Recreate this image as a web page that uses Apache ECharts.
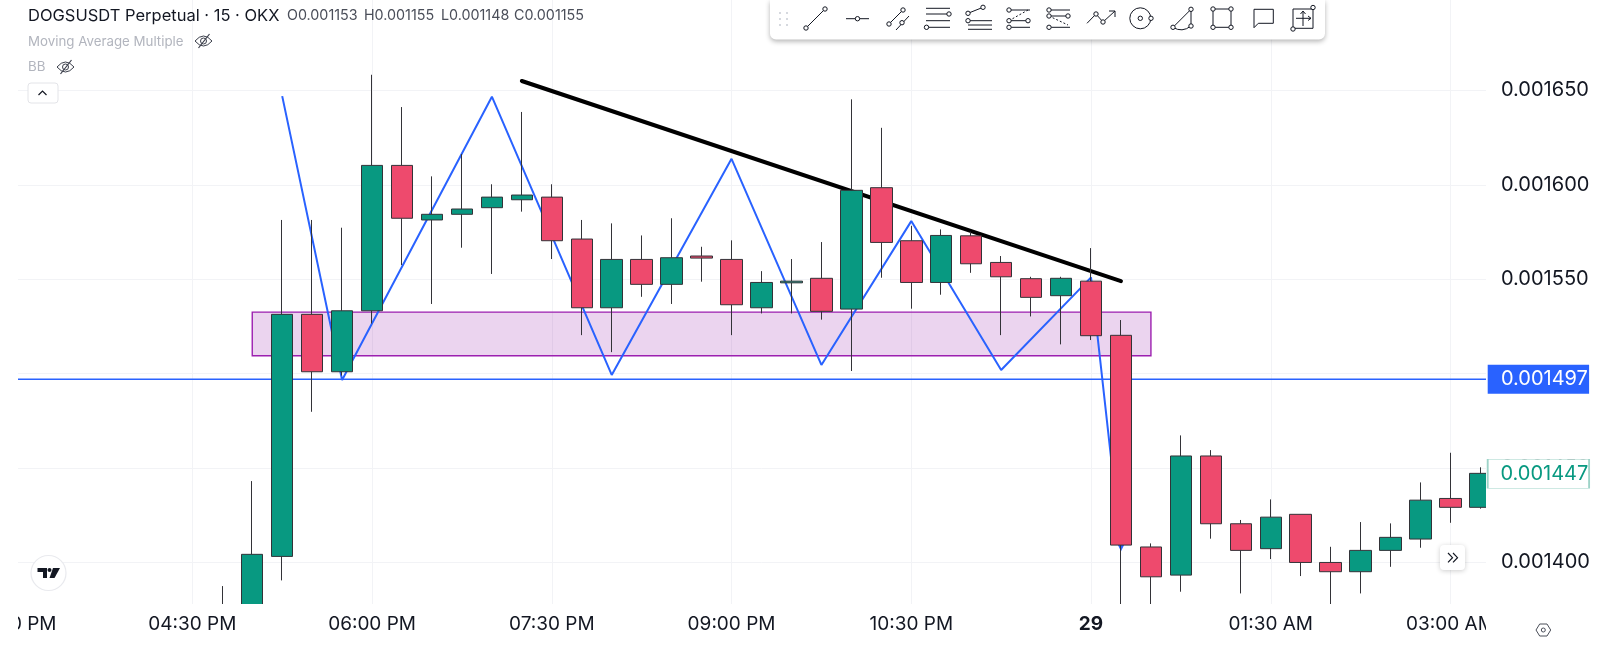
<!DOCTYPE html>
<html>
<head>
<meta charset="utf-8">
<title>DOGSUSDT Perpetual</title>
<script src="https://cdn.jsdelivr.net/npm/echarts@6/dist/echarts.min.js"></script>
<style>
  html, body { margin: 0; padding: 0; background: #fff; }
  #chart { width: 1600px; height: 650px; }
</style>
</head>
<body>
<div id="chart"></div>
<script>
// time axis, 15 min bars, 03:00 PM is cut by the window edge
const times = [
  '03:00 PM','03:15 PM','03:30 PM','03:45 PM','04:00 PM','04:15 PM',
  '04:30 PM','04:45 PM','05:00 PM','05:15 PM','05:30 PM','05:45 PM',
  '06:00 PM','06:15 PM','06:30 PM','06:45 PM','07:00 PM','07:15 PM',
  '07:30 PM','07:45 PM','08:00 PM','08:15 PM','08:30 PM','08:45 PM',
  '09:00 PM','09:15 PM','09:30 PM','09:45 PM','10:00 PM','10:15 PM',
  '10:30 PM','10:45 PM','11:00 PM','11:15 PM','11:30 PM','11:45 PM',
  '29','12:15 AM','12:30 AM','12:45 AM','01:00 AM','01:15 AM',
  '01:30 AM','01:45 AM','02:00 AM','02:15 AM','02:30 AM','02:45 AM',
  '03:00 AM','03:15 AM','03:30 AM'
];

const barTimes = [
  '04:45 PM','05:00 PM','05:15 PM','05:30 PM','05:45 PM','06:00 PM','06:15 PM','06:30 PM',
  '06:45 PM','07:00 PM','07:15 PM','07:30 PM','07:45 PM','08:00 PM','08:15 PM','08:30 PM',
  '08:45 PM','09:00 PM','09:15 PM','09:30 PM','09:45 PM','10:00 PM','10:15 PM','10:30 PM',
  '10:45 PM','11:00 PM','11:15 PM','11:30 PM','11:45 PM','29',
  '12:15 AM','12:30 AM','12:45 AM','01:00 AM','01:15 AM','01:30 AM','01:45 AM','02:00 AM',
  '02:15 AM','02:30 AM','02:45 AM','03:00 AM','03:15 AM'
];
const opens = [
  0.0013760,0.0013720,0.0014032,0.0015314,0.0015010,0.0015333,0.0016103,0.0015814,
  0.0015844,0.0015879,0.0015921,0.0015935,0.0015713,0.0015349,0.0015605,0.0015473,
  0.0015623,0.0015605,0.0015349,0.0015481,0.0015505,0.0015342,0.0015985,0.0015704,
  0.0015483,0.0015730,0.0015589,0.0015503,0.0015413,0.0015490,
  0.0015203,0.0014082,0.0013933,0.0014564,0.0014205,0.0014073,0.0014255,0.0014000,
  0.0013951,0.0014064,0.0014124,0.0014339,0.0014292
];
const closes = [
  0.0013720,0.0014043,0.0015314,0.0015010,0.0015333,0.0016103,0.0015823,0.0015844,
  0.0015872,0.0015935,0.0015946,0.0015704,0.0015349,0.0015605,0.0015473,0.0015614,
  0.0015612,0.0015365,0.0015483,0.0015490,0.0015330,0.0015971,0.0015695,0.0015483,
  0.0015732,0.0015582,0.0015513,0.0015404,0.0015505,0.0015201,
  0.0014092,0.0013924,0.0014564,0.0014205,0.0014064,0.0014240,0.0014000,0.0013951,
  0.0014064,0.0014133,0.0014330,0.0014292,0.0014472
];
const lows = [
  0.0013650,0.0013680,0.0013905,0.0014798,0.0014990,0.0015266,0.0015575,0.0015369,
  0.0015667,0.0015528,0.0015858,0.0015607,0.0015204,0.0015114,0.0015407,0.0015369,
  0.0015487,0.0015204,0.0015319,0.0015319,0.0015286,0.0015014,0.0015508,0.0015344,
  0.0015418,0.0015534,0.0015204,0.0015303,0.0015155,0.0015178,
  0.0013770,0.0013770,0.0013845,0.0014126,0.0013836,0.0014018,0.0013928,0.0013770,
  0.0013836,0.0013977,0.0014078,0.0014210,0.0014285
];
const highs = [
  0.0013875,0.0014431,0.0015814,0.0015814,0.0015773,0.0016583,0.0016412,0.0016045,
  0.0016163,0.0016003,0.0016386,0.0016003,0.0015814,0.0015796,0.0015732,0.0015823,
  0.0015672,0.0015706,0.0015543,0.0015607,0.0015697,0.0016453,0.0016302,0.0015783,
  0.0015764,0.0015752,0.0015623,0.0015513,0.0015513,0.0015665,
  0.0015284,0.0014101,0.0014673,0.0014595,0.0014225,0.0014334,0.0014255,0.0014083,
  0.0014214,0.0014207,0.0014424,0.0014581,0.0014504
];

// blue zigzag drawing
const zigzagTimes = ['05:15 PM','05:45 PM','07:00 PM','08:00 PM','09:00 PM','09:45 PM','10:30 PM','11:15 PM','29','12:15 AM'];
const zigzagPrices = [0.0016470,0.0014966,0.0016467,0.0014993,0.0016138,0.0015046,0.0015808,0.0015019,0.0015510,0.0014080];
// black trend line
const trendTimes = ['07:15 PM','12:15 AM'];
const trendPrices = [0.0016550,0.0015490];
// purple zone
const zoneTimes = ['05:00 PM','12:30 AM'];
const zonePrices = [0.0015326,0.0015095];

const levelPrice = 0.001497;
const lastPrice = 0.001447;
const yMin = 0.001378;
const yMax = 0.0016979;

const symbolText = 'DOGSUSDT Perpetual · 15 · OKX';
const ohlcText = ['O0.001153','H0.001155','L0.001148','C0.001155'];
const indicatorText = ['Moving Average Multiple','BB'];

const GREEN = '#089981';
const RED = '#ee4a6d';
const BORDER = '#333338';
const BLUE = '#2962ff';
const GRID = '#f2f3f6';
const FONT = 'Inter, "Noto Sans", sans-serif';
const PANE_RIGHT = 1486;
const PANE_BOTTOM = 604;

var dom = document.getElementById('chart');
var myChart = echarts.init(dom, null, { renderer: 'canvas' });

var candleRows = times.map(function (t) {
  var i = barTimes.indexOf(t);
  if (i < 0) return ['-', '-', '-', '-'];
  return [opens[i], closes[i], lows[i], highs[i]];
});
function pairs(ts, prices) {
  return ts.map(function (t, i) { return [t, prices[i]]; });
}
function every6(i) {
  return i % 6 === 0;
}

// ---------- toolbar and other chrome, just drawn on top ----------
const INK = '#131722';
function ln(points, dashed) {
  return { type: 'polyline', z: 22, shape: { points: points },
    style: { stroke: INK, lineWidth: 1, fill: null, lineDash: dashed ? [2, 2] : null } };
}
function dot(x, y, r) {
  return { type: 'circle', z: 23, shape: { cx: x, cy: y, r: r || 2.2 }, style: { stroke: INK, lineWidth: 1, fill: '#fff' } };
}
function curve(x1, y1, cx, cy, x2, y2, color) {
  return { type: 'bezierCurve', z: 22, shape: { x1: x1, y1: y1, cpx1: cx, cpy1: cy, x2: x2, y2: y2 },
    style: { stroke: color || INK, lineWidth: 1, fill: null } };
}
function eye(x, y) {
  return [
    curve(x - 8.5, y, x, y - 10, x + 8.5, y, '#3a3e4a'),
    curve(x - 8.5, y, x, y + 10, x + 8.5, y, '#3a3e4a'),
    { type: 'circle', z: 22, shape: { cx: x, cy: y, r: 3 }, style: { stroke: '#3a3e4a', lineWidth: 1, fill: null } },
    { type: 'line', z: 22, shape: { x1: x - 5, y1: y + 7, x2: x + 6, y2: y - 7 }, style: { stroke: '#3a3e4a', lineWidth: 1.2 } }
  ];
}
function headerText(str, x, y, size, color) {
  return { type: 'text', z: 20, x: x, y: y, style: { text: str, font: size + 'px ' + FONT, fill: color, verticalAlign: 'middle' } };
}
var grip = [];
[780, 787].forEach(function (x) {
  [13, 19, 25].forEach(function (y) {
    grip.push({ type: 'circle', z: 22, shape: { cx: x, cy: y, r: 1 }, style: { fill: '#c9ccd4' } });
  });
});
var toolbarIcons = [
  ln([[806, 28], [825, 9]]), dot(806, 28), dot(825, 9),
  ln([[846, 18.7], [869, 18.7]]), dot(857.5, 18.7),
  ln([[889, 24], [903, 10]]), ln([[896, 30], [909, 16]]), dot(889, 24), dot(903, 10), dot(902, 22.7),
  ln([[926, 8.3], [950, 8.3]]), ln([[926, 14], [949, 14]]), ln([[926, 20.7], [950, 20.7]]), ln([[926, 27.3], [950, 27.3]]), dot(949, 14), dot(926.5, 27.3),
  ln([[968, 13.3], [983, 7.3]]), ln([[968, 20.7], [992, 20.7]]), ln([[968, 25], [992, 25]]), ln([[968, 29.3], [992, 29.3]]), dot(968, 13.3), dot(983, 7.3), dot(968, 20.7),
  ln([[1009, 10], [1030, 10]]), ln([[1009, 20.7], [1028, 20.7]]), ln([[1009, 27.3], [1030, 27.3]]), ln([[1009, 20.7], [1028, 10]], true), dot(1009, 10), dot(1009, 20.7), dot(1028, 20.7), dot(1009, 27.3),
  ln([[1049, 10], [1070, 10]]), ln([[1049, 16], [1068, 16]]), ln([[1049, 27.3], [1070, 27.3]]), ln([[1049, 16], [1068, 25]], true), dot(1049, 10), dot(1049, 16), dot(1068, 16), dot(1049, 27.3),
  ln([[1087, 23.3], [1096, 14], [1103, 22], [1115, 11]]), ln([[1109, 11], [1115, 11], [1115, 17]]), dot(1096, 14), dot(1103, 22),
  { type: 'circle', z: 22, shape: { cx: 1140.3, cy: 18.3, r: 10.5 }, style: { stroke: INK, lineWidth: 1, fill: null } }, dot(1140.3, 18.3), dot(1151, 18.3),
  ln([[1173, 27.3], [1191, 9.3], [1191, 26]]), curve(1173, 27.3, 1182, 33, 1191, 26), dot(1173, 27.3), dot(1191, 9.3), dot(1191, 26),
  ln([[1213, 9], [1231, 9], [1231, 27.3], [1213, 27.3], [1213, 9]]), dot(1213, 9), dot(1231, 9), dot(1213, 27.3), dot(1231, 27.3),
  ln([[1254, 9.3], [1273.3, 9.3], [1273.3, 23.3], [1258.3, 23.3], [1254, 27.7], [1254, 9.3]]),
  ln([[1293, 9], [1313, 9], [1313, 28.3], [1293, 28.3], [1293, 9]]), ln([[1303, 12], [1303, 26]]), ln([[1296, 18.3], [1311, 18.3]]), ln([[1300.5, 14], [1303, 11], [1305.5, 14]]), ln([[1308, 16], [1311, 18.3], [1308, 20.5]]), dot(1313, 7.5), dot(1293, 29)
];

var chrome = [
  // covers: candles are not cut by the grid so the band under the pane hides them,
  // the two side covers cut the first and last time label like the real chart
  { type: 'rect', z: 6, shape: { x: 0, y: PANE_BOTTOM, width: 1600, height: 650 - PANE_BOTTOM }, style: { fill: '#fff' } },
  { type: 'rect', z: 12, shape: { x: 0, y: 0, width: 18, height: 650 }, style: { fill: '#fff' } },
  { type: 'rect', z: 12, shape: { x: PANE_RIGHT, y: 0, width: 1600 - PANE_RIGHT, height: 650 }, style: { fill: '#fff' } },

  headerText(symbolText, 28, 16, 16.5, '#131722'),
  headerText(ohlcText[0], 287, 16, 14.3, '#4a4e59'),
  headerText(ohlcText[1], 364, 16, 14.3, '#4a4e59'),
  headerText(ohlcText[2], 441, 16, 14.3, '#4a4e59'),
  headerText(ohlcText[3], 514, 16, 14.3, '#4a4e59'),
  headerText(indicatorText[0], 28, 42, 13.3, '#b2b5be'),
  headerText(indicatorText[1], 28, 67, 13.3, '#b2b5be'),

  // collapse legend button
  { type: 'rect', z: 20, shape: { x: 28, y: 83, width: 30, height: 20, r: 3 }, style: { fill: '#fff', stroke: '#e3e4e8', lineWidth: 1 } },
  { type: 'polyline', z: 21, shape: { points: [[38.5, 95], [42.5, 91], [46.5, 95]] }, style: { stroke: INK, lineWidth: 1.2, fill: null } },

  // toolbar box
  { type: 'rect', z: 20, shape: { x: 770, y: 0, width: 555, height: 39.5, r: [0, 0, 6, 6] },
    style: { fill: '#fff', shadowBlur: 5, shadowOffsetY: 2, shadowColor: 'rgba(0,0,0,.3)' } },

  // tradingview logo
  { type: 'circle', z: 20, shape: { cx: 48.5, cy: 573, r: 17.5 }, style: { fill: '#fff', stroke: '#e9eaee', lineWidth: 1.2 } },
  { type: 'polygon', z: 21, shape: { points: [[37.5, 568], [47, 568], [47, 578], [43, 578], [43, 572], [37.5, 572]] }, style: { fill: '#131722' } },
  { type: 'polygon', z: 21, shape: { points: [[53, 568], [60, 568], [54.5, 578], [49.5, 578]] }, style: { fill: '#131722' } },
  { type: 'circle', z: 21, shape: { cx: 49.5, cy: 570, r: 2 }, style: { fill: '#131722' } },

  // scroll to latest button
  { type: 'rect', z: 20, shape: { x: 1440, y: 545, width: 25, height: 25, r: 4 }, style: { fill: '#fff', shadowBlur: 5, shadowColor: 'rgba(0,0,0,.2)', shadowOffsetY: 1 } },
  { type: 'polyline', z: 21, shape: { points: [[1448, 553], [1452.5, 557.7], [1448, 562.4]] }, style: { stroke: INK, lineWidth: 1.2, fill: null } },
  { type: 'polyline', z: 21, shape: { points: [[1453, 553], [1457.5, 557.7], [1453, 562.4]] }, style: { stroke: INK, lineWidth: 1.2, fill: null } },

  // settings icon
  { type: 'polygon', z: 20, shape: { points: [[1536, 630], [1539.7, 624], [1547, 624], [1550.7, 630], [1547, 636], [1539.7, 636]] }, style: { stroke: '#4a4e59', lineWidth: 1, fill: null } },
  { type: 'circle', z: 20, shape: { cx: 1543.3, cy: 630, r: 2 }, style: { stroke: '#4a4e59', lineWidth: 1, fill: null } }
].concat(eye(203.5, 41), eye(65.5, 67), grip, toolbarIcons);

var option = {
  animation: false,
  backgroundColor: '#fff',
  textStyle: { fontFamily: FONT },
  graphic: { elements: chrome },
  grid: { left: 12.6, width: 1497.8, top: 0, height: PANE_BOTTOM, outerBoundsMode: 'none' },
  xAxis: [
    {
      type: 'category', data: times, boundaryGap: false, position: 'bottom',
      axisLine: { show: false }, axisTick: { show: false }, axisLabel: { show: false },
      splitLine: { show: true, interval: every6, lineStyle: { color: GRID, width: 1 } }
    },
    {
      // labels only, stays above the band that hides the candles under the pane
      type: 'category', data: times, boundaryGap: false, position: 'bottom', z: 10,
      axisLine: { show: false }, axisTick: { show: false }, splitLine: { show: false },
      axisLabel: {
        interval: every6,
        margin: 11, color: '#131722', fontSize: 19, fontFamily: FONT,
        formatter: function (v) { return v === '29' ? '{b|29}' : v; },
        rich: { b: { fontWeight: 'bold', fontSize: 19, color: '#131722', fontFamily: FONT } }
      }
    }
  ],
  yAxis: [
    {
      type: 'value', min: yMin, max: yMax, splitNumber: 6,
      axisLine: { show: false }, axisTick: { show: false }, axisLabel: { show: false },
      splitLine: { show: true, showMinLine: false, showMaxLine: false, lineStyle: { color: GRID, width: 1 } }
    },
    {
      // price labels only, separate axis so they stay above the cover
      type: 'value', position: 'right', min: yMin, max: yMax, splitNumber: 6, z: 13,
      axisLine: { show: false }, axisTick: { show: false }, splitLine: { show: false },
      axisLabel: {
        margin: -9.4, color: '#131722', fontSize: 20, fontFamily: FONT,
        showMinLabel: false, showMaxLabel: false,
        formatter: function (v) { return v.toFixed(6); }
      }
    }
  ],
  series: [
    // zone under everything
    {
      type: 'line', z: 1, data: [], silent: true,
      markArea: {
        silent: true,
        itemStyle: { color: 'rgba(156,39,176,.2)', borderColor: '#9c1fb0', borderWidth: 1.4 },
        data: [[{ xAxis: zoneTimes[0], yAxis: zonePrices[0] }, { xAxis: zoneTimes[1], yAxis: zonePrices[1] }]]
      }
    },
    // horizontal level
    {
      type: 'line', z: 3, showSymbol: false, silent: true,
      data: [[times[0], levelPrice], [times[times.length - 1], levelPrice]],
      lineStyle: { color: BLUE, width: 1.6 }
    },
    // zigzag
    {
      type: 'line', z: 3, showSymbol: false, silent: true,
      data: pairs(zigzagTimes, zigzagPrices),
      lineStyle: { color: BLUE, width: 2 }
    },
    // little arrow head at the end of the zigzag
    {
      type: 'scatter', z: 3, silent: true, symbol: 'triangle', symbolRotate: 180, symbolSize: 8,
      data: [[zigzagTimes[zigzagTimes.length - 1], zigzagPrices[zigzagPrices.length - 1]]],
      itemStyle: { color: BLUE, opacity: 1 }
    },
    // trend line
    {
      type: 'line', z: 4, showSymbol: false, silent: true,
      data: pairs(trendTimes, trendPrices),
      lineStyle: { color: '#000', width: 4, cap: 'round' }
    },
    {
      type: 'candlestick', z: 5, barWidth: 22, data: candleRows,
      itemStyle: { color: GREEN, color0: RED, borderColor: BORDER, borderColor0: BORDER, borderWidth: 1 }
    },
    // price tags
    {
      type: 'scatter', z: 20, silent: true, clip: false,
      symbol: 'rect', symbolSize: [101.4, 29], symbolOffset: [28, 0],
      label: {
        show: true, position: 'inside', offset: [6, 0], fontSize: 20, fontFamily: FONT,
        formatter: function (p) { return p.value[1].toFixed(6); }
      },
      data: [
        { value: [times[times.length - 1], levelPrice], itemStyle: { color: BLUE, opacity: 1 }, label: { color: '#fff' } },
        { value: [times[times.length - 1], lastPrice], itemStyle: { color: '#fff', opacity: 1, borderColor: '#9ed3c8', borderWidth: 1 }, label: { color: GREEN } }
      ]
    }
  ]
};

if (option && typeof option === 'object') {
  myChart.setOption(option);
}
window.addEventListener('resize', myChart.resize);
</script>
</body>
</html>
